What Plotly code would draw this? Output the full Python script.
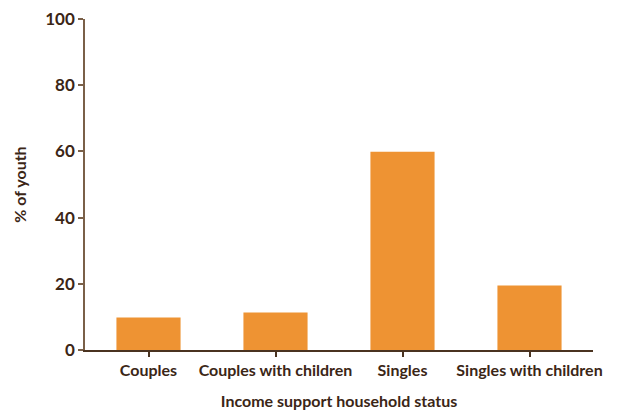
import plotly.graph_objects as go

categories = ["Couples", "Couples with children", "Singles", "Singles with children"]
values = [9.8, 11.3, 59.9, 19.5]
y_ticks = [0, 20, 40, 60, 80, 100]

text_color = "#3b2616"
bar_color = "#EE9333"

fig = go.Figure(go.Bar(x=categories, y=values, marker=dict(color=bar_color, line=dict(width=0))))

fig.update_layout(
    width=623, height=410,
    margin=dict(l=85, r=30, t=19, b=59.5, autoexpand=False),
    paper_bgcolor="white", plot_bgcolor="white",
    bargap=0.495,
    showlegend=False,
    font=dict(family="Lato", size=16, color=text_color),
)
fig.update_xaxes(
    automargin=False,
    showline=True, linecolor="#4a3320", linewidth=1.5,
    ticks="outside", ticklen=5, tickcolor="#4a3320", tickwidth=1.5,
    tickfont=dict(family="Lato", size=16, color=text_color, weight="bold"),
    title=dict(text="<b>Income support household status</b>", font=dict(family="Lato", size=16, color=text_color), standoff=21),
    showgrid=False,
)
fig.update_yaxes(
    automargin=False,
    range=[0, 100], tickvals=y_ticks,
    showline=True, linecolor="#7a6048", linewidth=1.5,
    ticks="outside", ticklen=5, tickcolor="#7a6048", tickwidth=1.5,
    tickfont=dict(family="Lato", size=17, color=text_color, weight="bold"),
    title=dict(text="<b>% of youth</b>", font=dict(family="Lato", size=16, color=text_color), standoff=15),
    showgrid=False, zeroline=False,
)
fig.write_html("out.html", config={"displayModeBar": False},
               post_script="document.body.style.margin='0px';")
